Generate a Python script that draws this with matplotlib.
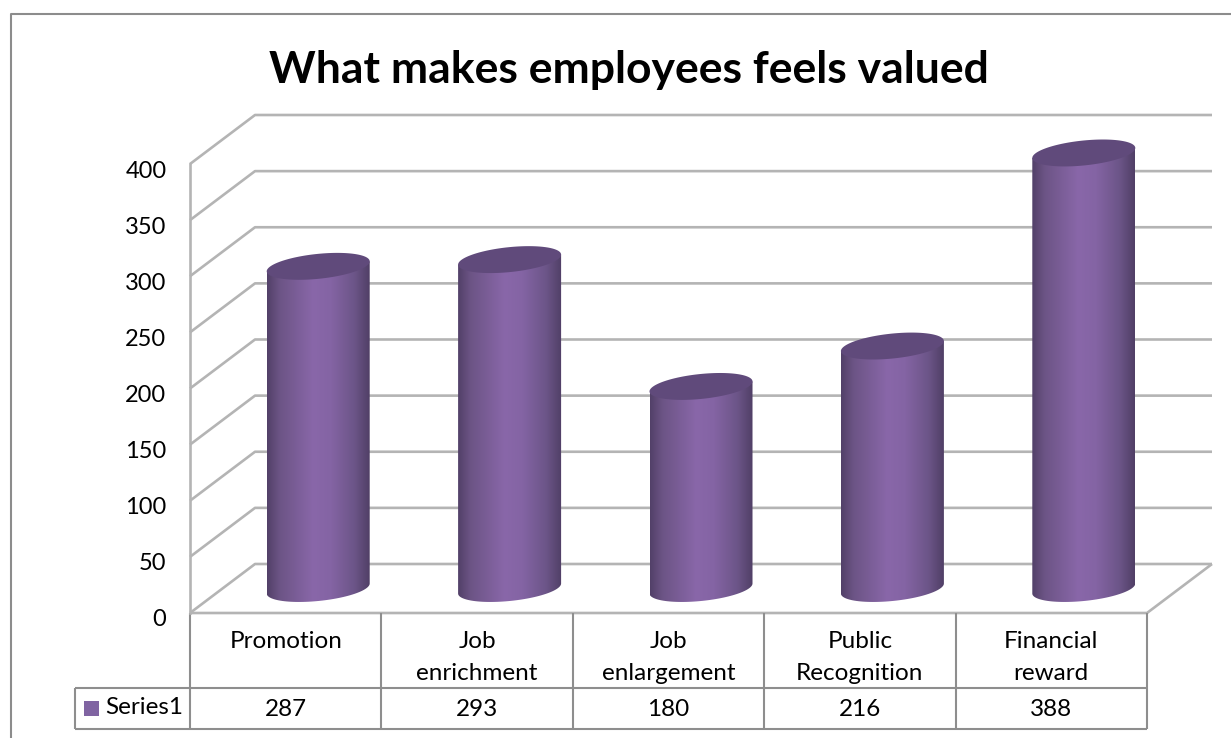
"""Employee survey: what makes employees feel valued (3D-look cylinder chart with data table)."""

import matplotlib
matplotlib.use("Agg")
import matplotlib.pyplot as plt
import numpy as np
from matplotlib.patches import PathPatch, Rectangle
from matplotlib.path import Path
from matplotlib.transforms import ScaledTranslation

CATEGORIES = ["Promotion", "Job\nenrichment", "Job\nenlargement", "Public\nRecognition", "Financial\nreward"]
VALUES = [287, 293, 180, 216, 388]
Y_TICKS = [0, 50, 100, 150, 200, 250, 300, 350, 400]
SERIES_NAME = "Series1"
TITLE = "What makes employees feels valued"

W, H = 1231, 738
LEFT, RIGHT, BOTTOM, TOP = 190, 1147, 613, 164   # front plane of the chart, pixels
PX_X = (RIGHT - LEFT) / len(CATEGORIES)
PX_Y = (BOTTOM - TOP) / 400

DEPTH_X = 65 / PX_X
DEPTH_Y = 49 / PX_Y
CYL_HALF = 51.5 / PX_X
CYL_B = 12.5 / PX_Y
CYL_SHEAR = 5 / PX_Y

GRID = "#b4b4b4"
TABLE = "#8e8e8e"
TOP_COLOR = "#604a7b"
SWATCH = "#8064a2"
LABEL_SIZE = 17.5

plt.rcParams["font.family"] = ["Lato", "DejaVu Sans"]

fig = plt.figure(figsize=(W / 100, H / 100), dpi=100, facecolor="white")
ax = fig.add_axes([LEFT / W, 1 - BOTTOM / H, (RIGHT - LEFT) / W, (BOTTOM - TOP) / H])
ax.set_xlim(0, len(CATEGORIES))
ax.set_ylim(0, 400)
ax.patch.set_visible(False)
for name in ["top", "right", "bottom"]:
    ax.spines[name].set_visible(False)
ax.spines["left"].set_color(GRID)
ax.spines["left"].set_linewidth(1.9)
ax.set_xticks([])
ax.set_yticks(Y_TICKS)
ax.tick_params(axis="y", length=0, pad=17, labelsize=17)
# tick labels sit a little below their gridlines
shift = ScaledTranslation(0, -0.05, fig.dpi_scale_trans)
for lab in ax.get_yticklabels():
    lab.set_transform(lab.get_transform() + shift)

# chart frame: left and top edges only, the rest runs off the image
fig.add_artist(plt.Line2D([11 / W, 11 / W, 1], [0, 1 - 14 / H, 1 - 14 / H], color="#8c8c8c", lw=1.5))

fig.text(629 / W, 1 - 70 / H, TITLE, ha="center", va="center", fontsize=32, fontweight="bold", color="black")


def line(xs, ys, color=GRID, lw=1.9, z=1):
    ax.plot(xs, ys, color=color, lw=lw, zorder=z, clip_on=False, solid_capstyle="butt")


# walls and floor
n = len(CATEGORIES)
for t in Y_TICKS:
    line([0, DEPTH_X, n + DEPTH_X], [t, t + DEPTH_Y, t + DEPTH_Y])
line([0, n, n + DEPTH_X], [0, 0, DEPTH_Y])

# cylinders with a horizontal shading gradient
shade = np.array([[0.00, 0x52, 0x40, 0x68],
                  [0.12, 0x6c, 0x54, 0x85],
                  [0.45, 0x89, 0x67, 0xa9],
                  [0.62, 0x84, 0x64, 0xa4],
                  [0.85, 0x6c, 0x55, 0x88],
                  [1.00, 0x50, 0x3f, 0x66]])
u = np.linspace(0, 1, 256)
ramp = np.stack([np.interp(u, shade[:, 0], shade[:, c]) for c in (1, 2, 3)], axis=-1)[None, :, :] / 255

t_arc = np.linspace(0, np.pi, 60)  # front half of the ellipse, right to left
t_all = np.linspace(0, 2 * np.pi, 120)
for i, v in enumerate(VALUES):
    cx = i + 0.5 + DEPTH_X / 2
    base = DEPTH_Y / 2
    top = v + DEPTH_Y / 2
    arc_x = cx + CYL_HALF * np.cos(t_arc)
    low = base - CYL_B * np.sin(t_arc) + CYL_SHEAR * np.cos(t_arc)
    body_x = np.concatenate([arc_x, [cx - CYL_HALF, cx + CYL_HALF]])
    body_y = np.concatenate([low, [top - CYL_SHEAR, top + CYL_SHEAR]])
    body = PathPatch(Path(np.column_stack([body_x, body_y])), fc="none", ec="none", transform=ax.transData)
    ax.add_patch(body)
    img = ax.imshow(ramp, extent=[cx - CYL_HALF, cx + CYL_HALF, base - 20, top + 20], aspect="auto", zorder=3)
    # the tallest cylinder pokes above the 400 line, so clip to the figure, not the axes
    img.set_clip_box(fig.bbox)
    img.set_clip_path(body)
    cap_x = cx + CYL_HALF * np.cos(t_all)
    cap_y = top + CYL_B * np.sin(t_all) + CYL_SHEAR * np.cos(t_all)
    ax.fill(cap_x, cap_y, color=TOP_COLOR, lw=0, zorder=4, clip_on=False)
ax.set_xlim(0, n)
ax.set_ylim(0, 400)


def to_val(py):
    return (BOTTOM - py) / PX_Y


# data table below the plot
row_y, end_y = to_val(688), to_val(729)
key_x = (75 - LEFT) / PX_X
for k in range(n + 1):
    line([k, k], [0, end_y], color=TABLE, lw=1.5, z=2)
line([key_x, n], [row_y, row_y], color=TABLE, lw=1.5, z=2)
line([key_x, n], [end_y, end_y], color=TABLE, lw=1.5, z=2)
line([key_x, key_x], [row_y, end_y], color=TABLE, lw=1.5, z=2)

for k, (cat, v) in enumerate(zip(CATEGORIES, VALUES)):
    ax.text(k + 0.5, to_val(631), cat, ha="center", va="top", fontsize=LABEL_SIZE, linespacing=1.62, clip_on=False)
    ax.text(k + 0.5, to_val(709), str(v), ha="center", va="center", fontsize=LABEL_SIZE, clip_on=False)

ax.add_patch(Rectangle(((84 - LEFT) / PX_X, to_val(716)), 15 / PX_X, 15 / PX_Y, fc=SWATCH, ec="none", clip_on=False))
ax.text((105 - LEFT) / PX_X, to_val(708), SERIES_NAME, ha="left", va="center", fontsize=LABEL_SIZE, clip_on=False)

fig.savefig("out.png", dpi=100)
